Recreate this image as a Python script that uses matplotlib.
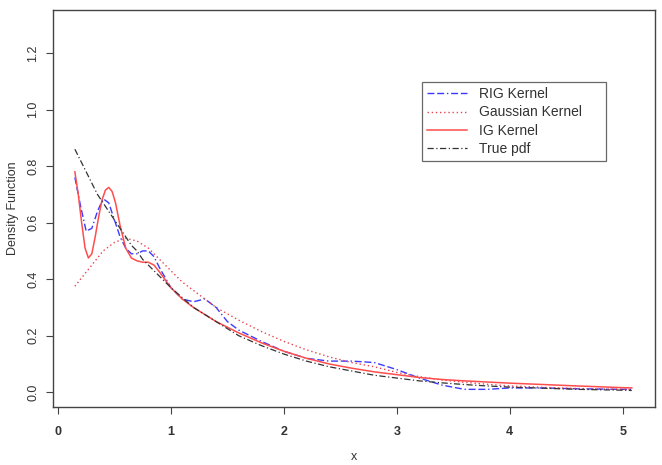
import matplotlib
matplotlib.use('Agg')
import matplotlib.pyplot as plt

plt.rcParams['font.family'] = ['Liberation Sans', 'DejaVu Sans']

x_true = [0.15, 0.2, 0.25, 0.3, 0.35, 0.4, 0.45, 0.5, 0.55, 0.6, 0.65, 0.7, 0.75, 0.8,
          0.85, 0.9, 1.0, 1.1, 1.2, 1.3, 1.4, 1.5, 1.6, 1.8, 2.0, 2.2, 2.4, 2.6, 2.8,
          3.0, 3.2, 3.4, 3.6, 3.8, 4.0, 4.3, 4.6, 5.0, 5.08]
y_true = [0.86, 0.82, 0.78, 0.74, 0.70, 0.67, 0.64, 0.61, 0.58, 0.55, 0.52, 0.50, 0.47, 0.45,
          0.43, 0.41, 0.37, 0.335, 0.30, 0.275, 0.25, 0.225, 0.20, 0.165, 0.135, 0.11, 0.09,
          0.075, 0.06, 0.05, 0.04, 0.033, 0.027, 0.022, 0.018, 0.014, 0.01, 0.007, 0.006]

x_ig = [0.15, 0.18, 0.21, 0.24, 0.27, 0.3, 0.33, 0.36, 0.39, 0.42, 0.45, 0.48, 0.51, 0.55,
        0.6, 0.65, 0.7, 0.75, 0.8, 0.85, 0.9, 1.0, 1.1, 1.2, 1.3, 1.4, 1.5, 1.6, 1.8, 2.0,
        2.2, 2.4, 2.6, 2.8, 3.0, 3.2, 3.4, 3.6, 3.8, 4.0, 4.3, 4.6, 5.0, 5.08]
y_ig = [0.78, 0.70, 0.60, 0.51, 0.475, 0.49, 0.55, 0.62, 0.68, 0.715, 0.725, 0.71, 0.67, 0.59,
        0.51, 0.475, 0.465, 0.46, 0.46, 0.45, 0.425, 0.37, 0.33, 0.30, 0.275, 0.25, 0.23,
        0.21, 0.175, 0.145, 0.12, 0.10, 0.085, 0.072, 0.062, 0.052, 0.045, 0.04, 0.036,
        0.032, 0.027, 0.022, 0.016, 0.015]

x_rig = [0.15, 0.2, 0.25, 0.3, 0.35, 0.4, 0.45, 0.5, 0.55, 0.6, 0.65, 0.7, 0.75, 0.8, 0.85,
         0.9, 1.0, 1.1, 1.2, 1.3, 1.4, 1.5, 1.6, 1.8, 2.0, 2.2, 2.4, 2.6, 2.8, 3.0, 3.2,
         3.4, 3.6, 3.8, 4.0, 4.3, 4.6, 5.0, 5.08]
y_rig = [0.76, 0.66, 0.57, 0.58, 0.64, 0.685, 0.67, 0.61, 0.55, 0.51, 0.49, 0.49, 0.50, 0.50,
         0.48, 0.44, 0.37, 0.33, 0.32, 0.33, 0.30, 0.25, 0.22, 0.18, 0.145, 0.12, 0.11,
         0.11, 0.105, 0.08, 0.05, 0.025, 0.01, 0.01, 0.015, 0.015, 0.012, 0.01, 0.01]

x_gauss = [0.15, 0.2, 0.3, 0.4, 0.5, 0.6, 0.7, 0.8, 0.9, 1.0, 1.1, 1.2, 1.4, 1.6, 1.8, 2.0,
           2.2, 2.4, 2.6, 2.8, 3.0, 3.2, 3.4, 3.6, 3.8, 4.0, 4.3, 4.6, 5.0, 5.08]
y_gauss = [0.375, 0.40, 0.45, 0.50, 0.53, 0.545, 0.535, 0.51, 0.47, 0.43, 0.39, 0.36, 0.30,
           0.255, 0.215, 0.18, 0.15, 0.125, 0.105, 0.09, 0.07, 0.055, 0.043, 0.035, 0.028,
           0.022, 0.017, 0.013, 0.01, 0.01]

x_ticks = [0, 1, 2, 3, 4, 5]
y_ticks = [0.0, 0.2, 0.4, 0.6, 0.8, 1.0, 1.2]

fig = plt.figure(figsize=(6.62, 4.65), dpi=100)
ax = fig.add_axes([0.080, 0.125, 0.909, 0.853])

ax.plot(x_rig, y_rig, color='#3a3aff', lw=1.0, dashes=(5, 2, 5, 2, 1, 2), label='RIG Kernel')
ax.plot(x_gauss, y_gauss, color='#e8434f', lw=1.0, dashes=(1, 2), label='Gaussian Kernel')
ax.plot(x_ig, y_ig, color='#ff4d4d', lw=1.1, label='IG Kernel')
ax.plot(x_true, y_true, color='#333333', lw=0.9, dashes=(5, 2, 1, 2), label='True pdf')

ax.set_xlim(-0.044, 5.283)
ax.set_ylim(-0.052, 1.352)
ax.set_xticks(x_ticks)
ax.set_xticklabels([str(t) for t in x_ticks], fontsize=9, fontweight='bold')
ax.set_yticks(y_ticks)
ax.set_yticklabels(['%.1f' % t for t in y_ticks], fontsize=9, rotation=90, va='center')
ax.tick_params(length=5, width=0.8, color='#444444', labelcolor='#333333')
ax.tick_params(axis='x', pad=9)
ax.tick_params(axis='y', pad=5)
for s in ax.spines.values():
    s.set_color('#444444')
    s.set_linewidth(1.0)

ax.set_xlabel('x', fontsize=9, color='#333333', labelpad=9)
ax.set_ylabel('Density Function', fontsize=9, color='#333333', labelpad=6)

leg = ax.legend(loc='upper left', bbox_to_anchor=(0.613, 0.618, 0.306, 0.2), mode='expand',
                fontsize=10, frameon=True, fancybox=False, edgecolor='#444444',
                handlelength=2.9, borderpad=0.35, labelspacing=0.3, handletextpad=0.9,
                borderaxespad=0)
leg.get_frame().set_linewidth(0.9)
for t in leg.get_texts():
    t.set_color('#333333')

fig.savefig('out.png', dpi=100)
